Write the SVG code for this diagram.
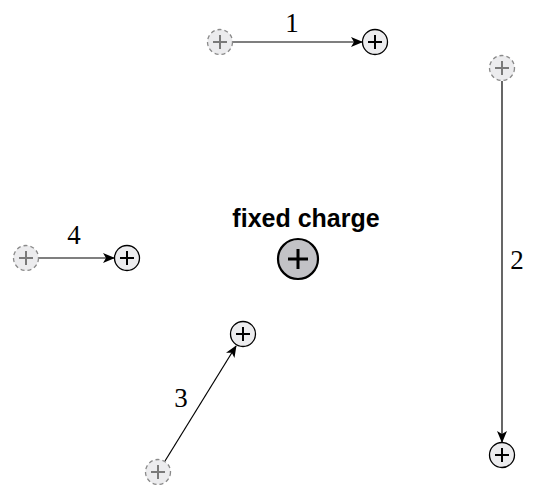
<svg xmlns="http://www.w3.org/2000/svg" width="533" height="491" viewBox="0 0 533 491">
<style>
.start circle{fill:#ececee;stroke:#8a8a8a;stroke-width:1.3;stroke-dasharray:4,3}
.start path{stroke:#7a7a7a;stroke-width:2;fill:none}
.end circle{fill:#ececee;stroke:#000;stroke-width:1.3}
.end path{stroke:#000;stroke-width:2;fill:none}
.conn line{stroke:#000;stroke-width:1.2;marker-end:url(#ah)}
.num{font-family:"Liberation Serif",serif;font-size:27px;fill:#000;text-anchor:middle}
</style>
<defs>
<marker id="ah" viewBox="0 0 12 10" refX="11" refY="5" markerWidth="12" markerHeight="10" markerUnits="userSpaceOnUse" orient="auto">
<path d="M0,0 L12,5 L0,10 L3,5 Z" fill="#000"/>
</marker>
</defs>
<g id="conn" class="conn">
<line x1="233" y1="42" x2="362" y2="42"/>
<line x1="502" y1="81" x2="502" y2="442"/>
<line x1="39" y1="258" x2="114" y2="258"/>
<line x1="165" y1="461" x2="236" y2="346"/>
</g>
<g id="labels">
<text class="num" x="292" y="32">1</text>
<text class="num" x="517" y="269">2</text>
<text class="num" x="181" y="407">3</text>
<text class="num" x="74" y="244">4</text>
</g>
<g id="c1-start" class="start"><circle cx="220" cy="42" r="12.5"/><path d="M213,42H227M220,35V49"/></g>
<g id="c1-end" class="end"><circle cx="375" cy="42" r="12.5"/><path d="M368,42H382M375,35V49"/></g>
<g id="c2-start" class="start"><circle cx="502" cy="68" r="12.5"/><path d="M495,68H509M502,61V75"/></g>
<g id="c2-end" class="end"><circle cx="502" cy="455" r="12.5"/><path d="M495,455H509M502,448V462"/></g>
<g id="c4-start" class="start"><circle cx="26" cy="258" r="12.5"/><path d="M19,258H33M26,251V265"/></g>
<g id="c4-end" class="end"><circle cx="127" cy="258" r="12.5"/><path d="M120,258H134M127,251V265"/></g>
<g id="c3-start" class="start"><circle cx="158" cy="472" r="12.5"/><path d="M151,472H165M158,465V479"/></g>
<g id="c3-end" class="end"><circle cx="243" cy="334" r="12.5"/><path d="M236,334H250M243,327V341"/></g>
<g id="fixed">
<text x="306" y="227" font-family="Liberation Sans,Arial,sans-serif" font-weight="bold" font-size="25" text-anchor="middle">fixed charge</text>
<circle cx="298" cy="259" r="20" fill="#c2c2c6" stroke="#000" stroke-width="2.2"/>
<path d="M288,259H308M298,249V269" stroke="#000" stroke-width="3" fill="none"/>
</g>
</svg>
